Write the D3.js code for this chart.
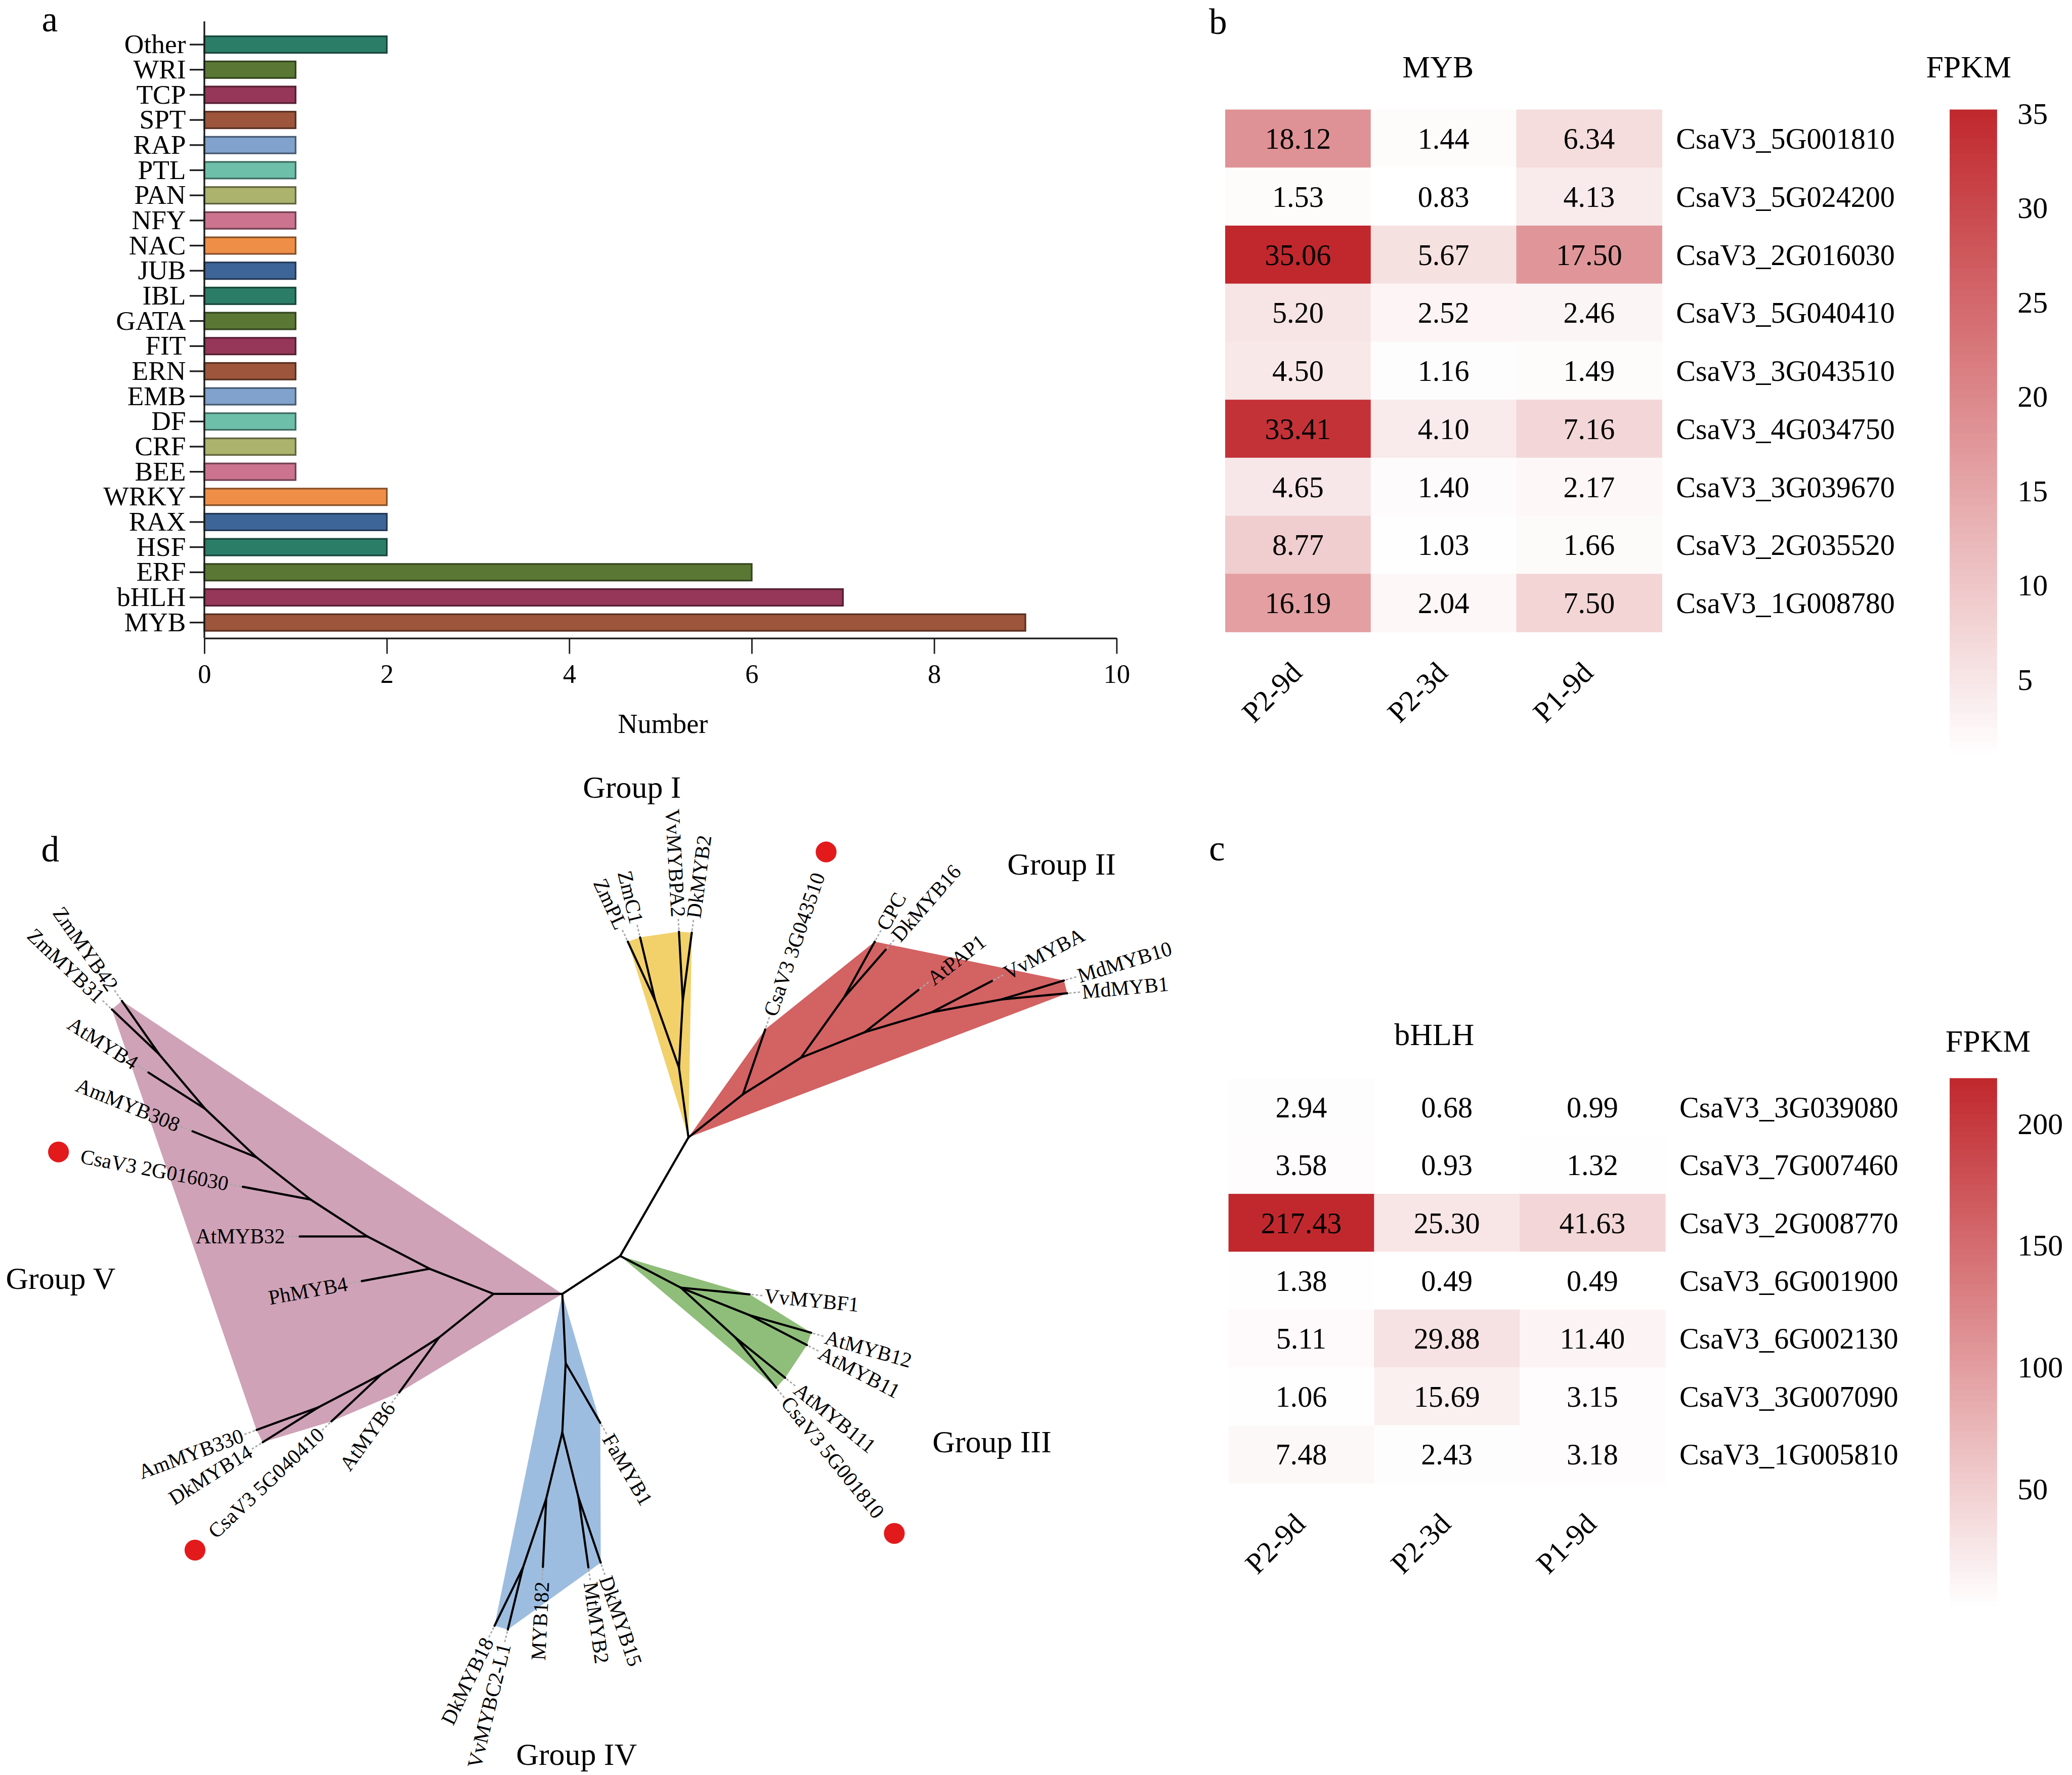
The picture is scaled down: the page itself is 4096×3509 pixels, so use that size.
<!DOCTYPE html>
<html>
<head>
<meta charset="utf-8">
<script src="https://cdn.jsdelivr.net/npm/d3@7"></script>
<style>
  body { margin: 0; background: #fff; }
  text { font-family: "Liberation Serif", "Times New Roman", serif; fill: #000; }
</style>
</head>
<body>
<svg id="fig" width="4096" height="3509"></svg>
<script>
// ---- panel a: TF family counts
const tfCategories = ["Other", "WRI", "TCP", "SPT", "RAP", "PTL", "PAN", "NFY", "NAC", "JUB", "IBL", "GATA",
  "FIT", "ERN", "EMB", "DF", "CRF", "BEE", "WRKY", "RAX", "HSF", "ERF", "bHLH", "MYB"];
const tfCounts = [2, 1, 1, 1, 1, 1, 1, 1, 1, 1, 1, 1, 1, 1, 1, 1, 1, 1, 2, 2, 2, 6, 7, 9];
const barPalette = ["#2b7d68", "#5a7834", "#963659", "#9d553b", "#80a2cc", "#6dbfaa", "#abb36d", "#cc738f", "#ef8f47", "#3e6598"];
const countTicks = [0, 2, 4, 6, 8, 10];

// ---- panels b, c: FPKM heatmaps
const conditions = ["P2-9d", "P2-3d", "P1-9d"];
const mybGenes = ["CsaV3_5G001810", "CsaV3_5G024200", "CsaV3_2G016030", "CsaV3_5G040410", "CsaV3_3G043510",
  "CsaV3_4G034750", "CsaV3_3G039670", "CsaV3_2G035520", "CsaV3_1G008780"];
const mybFpkm = [
  [18.12, 1.44, 6.34],
  [1.53, 0.83, 4.13],
  [35.06, 5.67, 17.50],
  [5.20, 2.52, 2.46],
  [4.50, 1.16, 1.49],
  [33.41, 4.10, 7.16],
  [4.65, 1.40, 2.17],
  [8.77, 1.03, 1.66],
  [16.19, 2.04, 7.50]
];
const mybLegendTicks = [5, 10, 15, 20, 25, 30, 35];
const bhlhGenes = ["CsaV3_3G039080", "CsaV3_7G007460", "CsaV3_2G008770", "CsaV3_6G001900", "CsaV3_6G002130",
  "CsaV3_3G007090", "CsaV3_1G005810"];
const bhlhFpkm = [
  [2.94, 0.68, 0.99],
  [3.58, 0.93, 1.32],
  [217.43, 25.30, 41.63],
  [1.38, 0.49, 0.49],
  [5.11, 29.88, 11.40],
  [1.06, 15.69, 3.15],
  [7.48, 2.43, 3.18]
];
const bhlhLegendTicks = [50, 100, 150, 200];

// ---- panel d: unrooted MYB tree, node coords in tree units (origin = central node, y up)
const treeNodes = [
  ["n_C", null, 0, 0],
  ["n_J", "n_C", 1.44, 2.50],
  ["n_Y1", "n_J", 1.24, 3.97],
  ["n_Y2", "n_Y1", 0.74, 5.38],
  ["ZmPL", "n_Y2", 0.16, 6.63],
  ["ZmC1", "n_Y2", 0.42, 6.72],
  ["n_Y3", "n_Y1", 1.32, 5.38],
  ["VvMYBPA2", "n_Y3", 1.24, 6.84],
  ["DkMYB2", "n_Y3", 1.51, 6.82],
  ["n_R1", "n_J", 2.59, 3.41],
  ["CsaV3 3G043510", "n_R1", 3.06, 4.78],
  ["n_R2", "n_R1", 3.81, 4.18],
  ["n_R3", "n_R2", 4.72, 5.45],
  ["CPC", "n_R3", 5.37, 6.63],
  ["DkMYB16", "n_R3", 5.60, 6.46],
  ["n_R4", "n_R2", 5.16, 4.72],
  ["AtPAP1", "n_R4", 6.29, 5.61],
  ["n_R5", "n_R4", 6.57, 5.14],
  ["VvMYBA", "n_R5", 7.84, 5.80],
  ["n_R6", "n_R5", 8.04, 5.41],
  ["MdMYB10", "n_R6", 9.36, 5.81],
  ["MdMYB1", "n_R6", 9.43, 5.54],
  ["n_G1", "n_C", 1.28, -0.67],
  ["VvMYBF1", "n_G1", 2.73, -0.81],
  ["n_G2", "n_G1", 2.73, -1.25],
  ["AtMYB12", "n_G2", 4.03, -1.62],
  ["AtMYB11", "n_G2", 3.94, -1.88],
  ["n_G3", "n_G1", 2.43, -1.72],
  ["AtMYB111", "n_G3", 3.48, -2.57],
  ["CsaV3 5G001810", "n_G3", 3.29, -2.78],
  ["n_P", "n_C", -1.22, -0.80],
  ["n_B1", "n_P", -1.15, -2.26],
  ["FaMYB1", "n_B1", -0.42, -3.52],
  ["n_B2", "n_B1", -1.22, -3.72],
  ["n_B3", "n_B2", -1.56, -5.12],
  ["MYB182", "n_B3", -1.63, -6.56],
  ["n_B5", "n_B3", -2.05, -6.57],
  ["DkMYB18", "n_B5", -2.65, -7.80],
  ["VvMYBC2-L1", "n_B5", -2.37, -7.88],
  ["n_B4", "n_B2", -0.88, -5.09],
  ["MtMYB2", "n_B4", -0.67, -6.57],
  ["DkMYB15", "n_B4", -0.41, -6.47],
  ["n_V1", "n_P", -2.67, -0.80],
  ["n_V2", "n_V1", -4.02, -0.27],
  ["PhMYB4", "n_V2", -5.45, -0.53],
  ["n_V3", "n_V2", -5.33, 0.41],
  ["AtMYB32", "n_V3", -6.76, 0.41],
  ["n_V4", "n_V3", -6.53, 1.19],
  ["CsaV3 2G016030", "n_V4", -7.96, 1.46],
  ["n_V5", "n_V4", -7.67, 2.08],
  ["AmMYB308", "n_V5", -9.02, 2.63],
  ["n_V6", "n_V5", -8.75, 3.10],
  ["AtMYB4", "n_V6", -9.95, 3.87],
  ["n_V7", "n_V6", -9.72, 4.25],
  ["ZmMYB42", "n_V7", -10.51, 5.38],
  ["ZmMYB31", "n_V7", -10.72, 5.20],
  ["n_V8", "n_V1", -3.82, -1.72],
  ["AtMYB6", "n_V8", -4.66, -2.88],
  ["n_V9", "n_V8", -5.04, -2.50],
  ["CsaV3 5G040410", "n_V9", -6.09, -3.49],
  ["n_V10", "n_V9", -6.36, -3.19],
  ["AmMYB330", "n_V10", -7.67, -3.67],
  ["DkMYB14", "n_V10", -7.54, -3.93]
];
const clades = [
  { group: "Group I", stem: "n_Y1", apex: "n_J", color: "#f2d16b" },
  { group: "Group II", stem: "n_R1", apex: "n_J", color: "#d36263" },
  { group: "Group III", stem: "n_G1", apex: "n_C", color: "#8fbe7a" },
  { group: "Group IV", stem: "n_B1", apex: "n_P", color: "#9dbde0" },
  { group: "Group V", stem: "n_V1", apex: "n_P", color: "#cfa2b7" }
];

// layout (reference pixel frame 4370 x 3744, scaled to the window)
const groupLabelAt = { "Group I": [1333, 1682], "Group II": [2239, 1845], "Group III": [2092, 3063],
  "Group IV": [1216, 3722], "Group V": [128, 2718] };
const heatRed = "#c0282d";

const svg = d3.select("#fig");
const fig = svg.append("g").attr("transform", `scale(${4096 / 4370})`);

function panelLetter(t, x, y) {
  fig.append("text").attr("x", x).attr("y", y).attr("font-size", 76).text(t);
}

// ================= panel a =================
const gA = fig.append("g");
const yA = d3.scaleBand().domain(tfCategories).range([67.5, 1339.5]).paddingInner(0.34).paddingOuter(0.17);
const xA = d3.scaleLinear().domain([0, 10]).range([431, 2355]);

gA.selectAll("rect.bar").data(tfCategories).join("rect")
  .attr("class", "bar")
  .attr("x", xA(0))
  .attr("y", d => yA(d))
  .attr("width", (d, i) => xA(tfCounts[i]) - xA(0))
  .attr("height", yA.bandwidth())
  .attr("fill", (d, i) => barPalette[i % barPalette.length])
  .attr("stroke", (d, i) => d3.color(barPalette[i % barPalette.length]).darker(1.6))
  .attr("stroke-width", 3.5);

gA.append("g").attr("transform", `translate(${xA(0)},0)`)
  .call(d3.axisLeft(yA).tickSize(31).tickPadding(8))
  .call(g => g.select(".domain").remove())
  .call(g => g.selectAll("line").attr("stroke", "#1a1a1a").attr("stroke-width", 3.5))
  .call(g => g.selectAll("text").attr("font-size", 57));

gA.append("line").attr("x1", xA(0)).attr("x2", xA(0)).attr("y1", 45).attr("y2", 1346)
  .attr("stroke", "#1a1a1a").attr("stroke-width", 3.5);

gA.append("g").attr("transform", "translate(0,1346)")
  .call(d3.axisBottom(xA).tickValues(countTicks).tickSize(33).tickSizeOuter(0).tickPadding(22))
  .call(g => g.select(".domain").attr("stroke", "#1a1a1a").attr("stroke-width", 3.5))
  .call(g => g.selectAll("line").attr("stroke", "#1a1a1a").attr("stroke-width", 3))
  .call(g => g.selectAll("text").attr("font-size", 56));

gA.append("text").attr("x", 1398).attr("y", 1546).attr("text-anchor", "middle")
  .attr("font-size", 58).text("Number");
panelLetter("a", 88, 66);

// ================= panels b, c =================
function heatmap(genes, values, ticks, o) {
  const g = fig.append("g");
  const x = d3.scaleBand().domain(conditions).range([o.left, o.left + 3 * o.colW]);
  const y = d3.scaleBand().domain(genes).range([o.top, o.top + genes.length * o.rowH]);
  const ext = d3.extent(values.flat());
  const color = d3.scaleLinear().domain(ext).range(["#ffffff", heatRed]);
  const cells = genes.flatMap((gene, i) => conditions.map((c, j) => ({ gene, c, v: values[i][j] })));

  g.selectAll("rect.cell").data(cells).join("rect")
    .attr("class", "cell")
    .attr("x", d => x(d.c)).attr("y", d => y(d.gene))
    .attr("width", x.bandwidth() + 0.8).attr("height", y.bandwidth() + 0.8)
    .attr("fill", d => color(d.v));

  g.selectAll("text.val").data(cells).join("text")
    .attr("class", "val")
    .attr("x", d => x(d.c) + x.bandwidth() / 2)
    .attr("y", d => y(d.gene) + y.bandwidth() / 2)
    .attr("dy", "0.35em").attr("text-anchor", "middle").attr("font-size", 62)
    .text(d => d.v.toFixed(2));

  g.selectAll("text.gene").data(genes).join("text")
    .attr("class", "gene")
    .attr("x", o.left + 3 * o.colW + 30)
    .attr("y", d => y(d) + y.bandwidth() / 2)
    .attr("dy", "0.35em").attr("font-size", 62)
    .text(d => d);

  const bottom = o.top + genes.length * o.rowH;
  g.selectAll("text.cond").data(conditions).join("text")
    .attr("class", "cond")
    .attr("text-anchor", "end").attr("font-size", 62)
    .attr("transform", d => `translate(${x(d) + x.bandwidth() / 2 + 12},${bottom + 90}) rotate(-45)`)
    .text(d => d);

  g.append("text").attr("x", o.titleX).attr("y", o.titleY).attr("text-anchor", "middle")
    .attr("font-size", 66).text(o.title);
  g.append("text").attr("x", o.fpkmX).attr("y", o.fpkmY).attr("text-anchor", "middle")
    .attr("font-size", 66).text("FPKM");

  // colour bar
  const yC = d3.scaleLinear().domain(ext).range([o.barBottom, o.top]);
  const steps = d3.range(90).map(i => ext[0] + (ext[1] - ext[0]) * i / 90);
  const dv = (ext[1] - ext[0]) / 90;
  g.selectAll("rect.band").data(steps).join("rect")
    .attr("class", "band")
    .attr("x", 4112).attr("width", 100)
    .attr("y", d => yC(d + dv)).attr("height", d => yC(d) - yC(d + dv) + 1)
    .attr("fill", d => color(d + dv / 2));
  g.selectAll("text.tick").data(ticks).join("text")
    .attr("class", "tick")
    .attr("x", 4255).attr("y", d => yC(d) + 28).attr("font-size", 64)
    .text(d => d);
}

heatmap(mybGenes, mybFpkm, mybLegendTicks, {
  left: 2584, top: 231, colW: 307, rowH: 122.4, barBottom: 1593,
  title: "MYB", titleX: 3033, titleY: 163, fpkmX: 4152, fpkmY: 163
});
heatmap(bhlhGenes, bhlhFpkm, bhlhLegendTicks, {
  left: 2591, top: 2274, colW: 307, rowH: 122, barBottom: 3389,
  title: "bHLH", titleX: 3025, titleY: 2204, fpkmX: 4193, fpkmY: 2218
});
panelLetter("b", 2550, 71);
panelLetter("c", 2550, 1815);

// ================= panel d =================
const gD = fig.append("g");
const tx = d3.scaleLinear().domain([0, 1]).range([1308, 1408]);
const ty = d3.scaleLinear().domain([0, 1]).range([2649, 2549]);
const tree = d3.stratify().id(d => d[0]).parentId(d => d[1])(treeNodes);
tree.each(n => { n.px = tx(n.data[2]); n.py = ty(n.data[3]); });
const byId = new Map(tree.descendants().map(n => [n.id, n]));

clades.forEach(c => {
  const pts = byId.get(c.stem).descendants().map(n => [n.px, n.py]);
  const apex = byId.get(c.apex);
  pts.push([apex.px, apex.py]);
  const hull = d3.polygonHull(pts);
  gD.append("path").attr("d", "M" + hull.join("L") + "Z").attr("fill", c.color);
});

gD.selectAll("line.branch").data(tree.links()).join("line")
  .attr("class", "branch")
  .attr("x1", d => d.source.px).attr("y1", d => d.source.py)
  .attr("x2", d => d.target.px).attr("y2", d => d.target.py)
  .attr("stroke", "#000").attr("stroke-width", 4.5).attr("stroke-linecap", "round");

tree.leaves().forEach(leaf => {
  const dx = leaf.px - leaf.parent.px, dy = leaf.py - leaf.parent.py;
  const len = Math.hypot(dx, dy);
  const ux = dx / len, uy = dy / len;
  const ang = Math.atan2(dy, dx) * 180 / Math.PI;
  const flip = ux < 0;

  gD.append("line")
    .attr("x1", leaf.px + ux * 4).attr("y1", leaf.py + uy * 4)
    .attr("x2", leaf.px + ux * 27).attr("y2", leaf.py + uy * 27)
    .attr("stroke", "#a8a8a8").attr("stroke-width", 3).attr("stroke-dasharray", "5,4");

  const lx = leaf.px + ux * 31, ly = leaf.py + uy * 31;
  const t = gD.append("text")
    .attr("transform", `translate(${lx},${ly}) rotate(${flip ? ang + 180 : ang})`)
    .attr("text-anchor", flip ? "end" : "start")
    .attr("dy", "0.33em").attr("font-size", 44)
    .text(leaf.id);

  if (leaf.id.startsWith("CsaV3")) {
    const dist = 31 + t.node().getComputedTextLength() + 48;
    gD.append("circle")
      .attr("cx", leaf.px + ux * dist).attr("cy", leaf.py + uy * dist)
      .attr("r", 22).attr("fill", "#e31a1c");
  }
});

gD.selectAll("text.group").data(clades).join("text")
  .attr("class", "group")
  .attr("x", d => groupLabelAt[d.group][0]).attr("y", d => groupLabelAt[d.group][1])
  .attr("text-anchor", "middle").attr("font-size", 66)
  .text(d => d.group);
panelLetter("d", 87, 1817);
</script>
</body>
</html>
